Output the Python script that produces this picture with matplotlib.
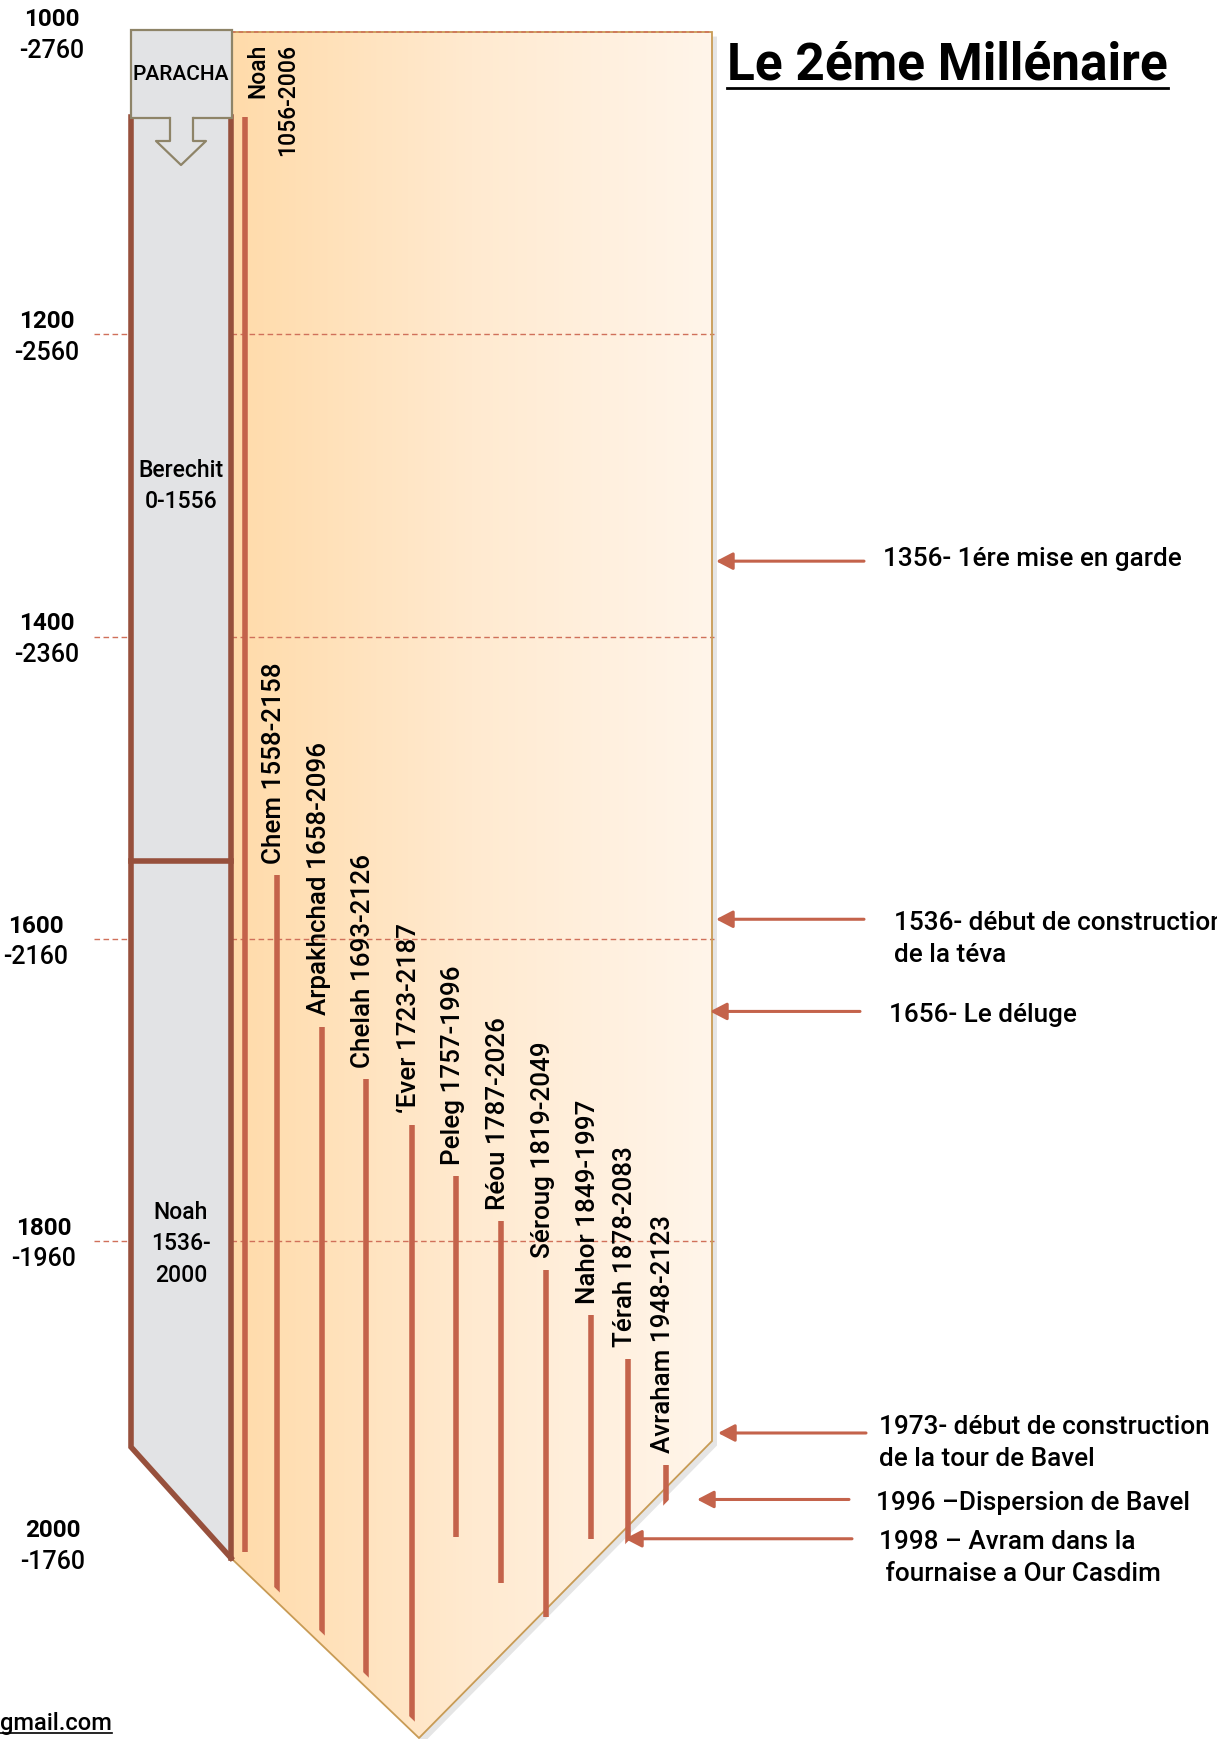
import numpy as np
import matplotlib.pyplot as plt
from matplotlib.patches import Polygon, Rectangle
from matplotlib.lines import Line2D
from matplotlib.colors import LinearSegmentedColormap

plt.rcParams['font.family'] = ['Roboto', 'DejaVu Sans']
plt.rcParams['font.weight'] = 500

# ---------------- data ----------------
names = ['Noah', 'Chem', 'Arpakhchad', 'Chelah', '\u2018Ever', 'Peleg',
         'Réou', 'Séroug', 'Nahor', 'Térah', 'Avraham']
born = [1056, 1558, 1658, 1693, 1723, 1757, 1787, 1819, 1849, 1878, 1948]
died = [2006, 2158, 2096, 2126, 2187, 1996, 2026, 2049, 1997, 2083, 2123]

years = [1000, 1200, 1400, 1600, 1800, 2000]
bce = [y - 3760 for y in years]

paracha = ['Berechit\n0-1556', 'Noah\n1536-\n2000']

events = ['1356- 1ére mise en garde',
          '1536- début de construction\nde la téva',
          '1656- Le déluge',
          '1973- début de construction\nde la tour de Bavel',
          '1996 \u2013Dispersion de Bavel',
          '1998 \u2013 Avram dans la\n fournaise a Our Casdim']
# where the arrows hit the drawn time scale
event_at = [1350, 1587, 1648, 1927, 1971, 1997]

# ---------------- layout ----------------
W, H = 1217, 1740
BAR = '#C4634B'
BORDER = '#97503C'
GREY = '#E2E3E5'
GOLD = '#C89B55'
DASH = '#D0705A'


def yr(py):
    # pixel row -> year on the drawn scale
    return 1000 + (py - 33.3) / 1.511


bar_x = [245, 277, 322, 366, 412, 456, 501, 546, 591, 628, 666]
year_lab_x = [52, 47, 47, 36, 44, 53]
arrow_tip = [716, 716, 710, 718, 697, 625]
arrow_tail = [864, 864, 860, 866, 849, 852]
text_x = [883, 894, 889, 879, 876, 879]
text_dy = [4, 0, 0, 7, 0, 0]

fig = plt.figure(figsize=(W / 100, H / 100), dpi=100)
ax = fig.add_axes([0, 0, 1, 1])
ax.axis('off')

# ribbon
rib_pts = [(231, yr(33)), (712, yr(33)), (712, yr(1442)), (419, yr(1739)), (231, yr(1559))]
shadow = Polygon([(x + 5, y + 3) for x, y in rib_pts], closed=True, fc='#000000',
                 alpha=0.10, ec='none', zorder=0)
ax.add_patch(shadow)
ribbon = Polygon(rib_pts, closed=True, fill=False, ec=GOLD, lw=1.3, zorder=3)
ax.add_patch(ribbon)
cmap = LinearSegmentedColormap.from_list('rib', ['#FFDBAA', '#FFEAD0', '#FFF5EA'])
grad = np.linspace(0, 1, 256).reshape(1, -1)
im = ax.imshow(grad, extent=[231, 712, yr(1740), yr(33)], cmap=cmap, aspect='auto',
               interpolation='bilinear', zorder=1)
im.set_clip_path(ribbon)

# bars stop a little short on the left slope and run a little past on the right
bar_clip = Polygon([(225, yr(20)), (720, yr(20)), (720, yr(1449)), (433, yr(1740)),
                    (225, yr(1541))], closed=True, fill=False, ec='none')
ax.add_patch(bar_clip)

# top edge and century lines
ax.plot([231, 712], [1000, 1000], color=DASH, lw=1.1, dashes=(3, 2), zorder=4)
for y in years[1:-1]:
    ax.plot([94, 131], [y, y], color=DASH, lw=1.0, dashes=(4, 2.5), zorder=2)
    ax.plot([231, 714], [y, y], color=DASH, lw=1.0, dashes=(4, 2.5), zorder=2)

# lifespans
lc = ax.vlines(bar_x, born, died, colors=BAR, lw=4, zorder=5)
lc.set_capstyle('butt')
lc.set_clip_path(bar_clip)

for i, (n, b, d) in enumerate(zip(names, born, died)):
    if i == 0:
        ax.text(bar_x[0] + 1, yr(44), '%s\n%d-%d' % (n, b, d), rotation=90,
                ha='left', va='top', multialignment='right', fontsize=16.5,
                linespacing=1.4, zorder=9)
    else:
        ax.annotate('%s %d-%d' % (n, b, d), (bar_x[i], b), xytext=(-2, 9),
                    textcoords='offset points', rotation=90, ha='center',
                    va='bottom', fontsize=18.7, zorder=9)

# paracha column
grey = Polygon([(131, yr(31)), (231, yr(31)), (231, yr(1559)), (131, yr(1448))],
               closed=True, fc=GREY, ec='none', zorder=6)
ax.add_patch(grey)
ax.plot([131, 131, 231], [yr(118), yr(1448), yr(1559)], color=BORDER, lw=4,
        solid_joinstyle='miter', zorder=7)
ax.plot([231, 231], [yr(118), yr(1559)], color=BORDER, lw=4, zorder=7)
ax.plot([131, 231], [yr(862), yr(862)], color=BORDER, lw=4, zorder=7)

box = Rectangle((131, yr(31)), 101, yr(119) - yr(31), fc=GREY, ec='#8E8468',
                lw=1.6, zorder=8)
ax.add_patch(box)
arr = [(170, yr(119)), (170, yr(142)), (156, yr(142)), (181, yr(166)),
       (206, yr(142)), (193, yr(142)), (193, yr(119))]
ax.add_patch(Polygon(arr + [(193, yr(117)), (170, yr(117))], closed=True, fc=GREY,
                     ec='none', zorder=8.5))
ax.plot([p[0] for p in arr], [p[1] for p in arr], color='#8E8468', lw=1.6, zorder=8.6)

ax.text(181, yr(75), 'PARACHA', ha='center', va='center', fontsize=15, zorder=9)
ax.text(181, yr(486), paracha[0], ha='center', va='center', fontsize=16.5,
        linespacing=1.48, zorder=9)
ax.text(181, yr(1244), paracha[1], ha='center', va='center', fontsize=16.5,
        linespacing=1.48, zorder=9)

# year scale
for y, b, x in zip(years, bce, year_lab_x):
    ax.annotate(str(y), (x, y), xytext=(0, 10), textcoords='offset points',
                ha='center', va='center', fontsize=17.5, fontweight='bold')
    ax.annotate(str(b), (x, y), xytext=(0, -12.5), textcoords='offset points',
                ha='center', va='center', fontsize=18)

# events
for txt, at, tip, tail, tx, dy in zip(events, event_at, arrow_tip, arrow_tail,
                                      text_x, text_dy):
    ax.annotate('', xy=(tip, at), xytext=(tail, at),
                arrowprops=dict(arrowstyle='-|>,head_length=0.5,head_width=0.26',
                                color=BAR, lw=2.2, shrinkA=0, shrinkB=0,
                                mutation_scale=20), zorder=10)
    for j, line in enumerate(txt.split('\n')):
        ax.annotate(line, (tx, at), xytext=(0, dy - j * 23), textcoords='offset points',
                    ha='left', va='center_baseline', fontsize=18.8)

ax.set_xlim(0, W)
ax.set_ylim(yr(H), yr(0))

title = fig.text(727 / W, 1 - 66 / H, 'Le 2éme Millénaire', fontsize=37,
                 fontweight='bold', ha='left', va='center')
mail = fig.text(0, 1 - 1724 / H, 'gmail.com', fontsize=17, ha='left', va='center')

fig.canvas.draw()
for t, lw in [(title, 2), (mail, 1.2)]:
    bb = t.get_window_extent()
    yl = (bb.y0 + 2) / H
    fig.add_artist(Line2D([bb.x0 / W, bb.x1 / W], [yl, yl], transform=fig.transFigure,
                          color='black', lw=lw))

fig.savefig('out.png', dpi=100)
